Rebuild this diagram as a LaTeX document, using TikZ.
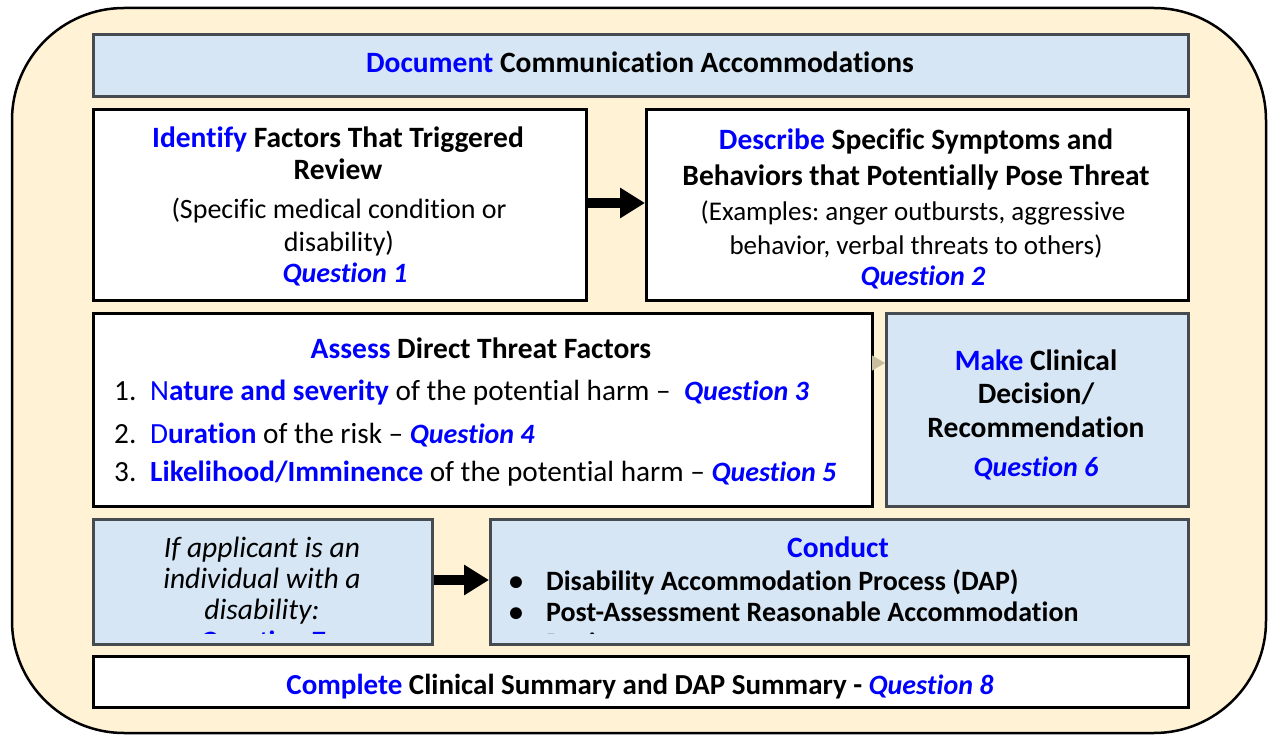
\documentclass[tikz,border=0pt]{standalone}
\usepackage{fontspec}
\setmainfont{Carlito}[Ligatures=NoCommon]
\usetikzlibrary{arrows.meta}
\frenchspacing

\definecolor{cream}{HTML}{FFF2D5}
\definecolor{paleblue}{HTML}{D6E6F4}
\definecolor{slate}{HTML}{464B51}
\definecolor{qblue}{HTML}{0000FF}
\definecolor{tipgray}{HTML}{C8BE9E}

\newcommand{\fsz}[1]{\fontsize{#1}{#1}\selectfont}
\tikzset{
  whitebox/.style={draw=black, line width=3pt, fill=white, inner sep=0pt, anchor=north west},
  bluebox/.style={draw=slate, line width=3pt, fill=paleblue, inner sep=0pt, anchor=north west},
  bigarrow/.style={draw=black, line width=10pt, -{Triangle[length=25pt,width=29pt]}},
  txt/.style={inner sep=0pt, anchor=base, yshift=-2pt},
  hd/.style={txt, font=\fsz{29.5}\bfseries},
  tx/.style={txt, font=\fsz{28}},
  sm/.style={txt, font=\fsz{27}},
  lst/.style={txt, font=\fsz{29.25}, anchor=base west},
  itx/.style={txt, font=\fsz{29.5}\itshape},
  bul/.style={txt, font=\fsz{28}\bfseries},
  bull/.style={bul, anchor=base west},
  qq/.style={txt, font=\fsz{28}\bfseries\itshape, text=qblue},
}
\newcommand{\hl}[1]{\textcolor{qblue}{#1}}
\newcommand{\qlabel}[1]{\textcolor{qblue}{\fsz{28}\textbf{\textit{#1}}}}

\begin{document}
\begin{tikzpicture}[x=1pt, y=-1pt]
  \useasboundingbox (0,0) rectangle (1270,735);

  % rounded background panel
  \draw[line width=2.5pt, fill=cream, rounded corners=112pt] (12,8) rectangle (1266,733);

  % boxes
  \node[bluebox,  minimum width=1095pt, minimum height=62pt]  (doc)     at (92,33)  {};
  \node[whitebox, minimum width=493pt,  minimum height=191pt] (ident)   at (92,108) {};
  \node[whitebox, minimum width=542pt,  minimum height=191pt] (desc)    at (645,108) {};
  \node[whitebox, minimum width=779pt,  minimum height=193pt] (assess)  at (92,312) {};
  \node[bluebox,  minimum width=302pt,  minimum height=193pt] (make)    at (885,312) {};
  \node[bluebox,  minimum width=339pt,  minimum height=125pt] (ifbox)   at (92,518) {};
  \node[bluebox,  minimum width=698pt,  minimum height=125pt] (conduct) at (489,518) {};
  \node[whitebox, minimum width=1095pt, minimum height=51pt]  (complete) at (92,655) {};

  % connectors
  \coordinate (yA) at (0,203);
  \coordinate (yB) at (0,580);
  \coordinate (yC) at (0,363);
  \draw[bigarrow] (ident.east |- yA) -- (desc.west |- yA);
  \draw[bigarrow] (ifbox.east |- yB) -- (conduct.west |- yB);
  \draw[tipgray, line width=0.4pt, -{Triangle[length=13pt,width=15pt]}] (assess.east |- yC) -- (make.west |- yC);

  % document
  \node[hd] (tdoc) at (640,71) {\hl{Document} Communication Accommodations};

  % identify
  \node[hd] (ti1) at (338,146) {\hl{Identify} Factors That Triggered};
  \node[hd] (ti2) at (338,178) {Review};
  \node[tx] (ti3) at (339,217) {(Specific medical condition or};
  \node[tx] (ti4) at (339,250) {disability)};
  \node[qq] (ti5) at (345,281) {Question 1};

  % describe
  \node[hd] (td1) at (916,148) {\hl{Describe} Specific Symptoms and};
  \node[hd] (td2) at (916,184) {Behaviors that Potentially Pose Threat};
  \node[sm] (td3) at (913,219) {(Examples: anger outbursts, aggressive};
  \node[sm] (td4) at (916,253) {behavior, verbal threats to others)};
  \node[qq] (td5) at (923,284) {Question 2};

  % assess
  \node[hd] (ta0) at (481,357) {\hl{Assess} Direct Threat Factors};
  \node[lst] (n1) at (114,399) {1.};
  \node[lst] (n2) at (114,441) {2.};
  \node[lst] (n3) at (114,479) {3.};
  \node[lst] (ta1) at (150,399) {\hl{N\textbf{ature and severity}} of the potential harm --\ \ \qlabel{Question 3}};
  \node[lst] (ta2) at (150,441) {\hl{D\textbf{uration}} of the risk -- \qlabel{Question 4}};
  \node[lst] (ta3) at (150,479) {\hl{\textbf{Likelihood/Imminence}} of the potential harm -- \qlabel{Question 5}};

  % decision
  \node[hd] (tm1) at (1036,369) {\hl{Make} Clinical};
  \node[hd] (tm2) at (1036,402) {Decision/};
  \node[hd] (tm3) at (1036,435) {Recommendation};
  \node[qq] (tm4) at (1036,474) {Question 6};

  % applicant condition (text frame cuts off the last line)
  \begin{scope}
    \clip ([yshift=13pt]ifbox.south west) rectangle (ifbox.north east);
    \node[itx] (tf1) at (262,555) {If applicant is an};
    \node[itx] (tf2) at (262,586) {individual with a};
    \node[itx] (tf3) at (262,617) {disability:};
    \node[qq] (tf4) at (262,648) {Question 7};
  \end{scope}

  % conduct (text frame cuts off the last line)
  \begin{scope}
    \clip ([yshift=13pt]conduct.south west) rectangle (conduct.north east);
    \node[hd, text=qblue] (tc0) at (838,555) {Conduct};
    \node[bul] (b1) at (516,588) {•};
    \node[bul] (b2) at (516,619) {•};
    \node[bul] (b3) at (516,650) {•};
    \node[bull] (tc1) at (546,588) {Disability Accommodation Process (DAP)};
    \node[bull] (tc2) at (546,619) {Post-Assessment Reasonable Accommodation};
    \node[bull] (tc3) at (546,650) {Review};
  \end{scope}

  % complete
  \node[hd, font=\fsz{29}\bfseries] (tcs) at (640,692) {\hl{Complete} Clinical Summary and DAP Summary - \qlabel{Question 8}};
\end{tikzpicture}
\end{document}
